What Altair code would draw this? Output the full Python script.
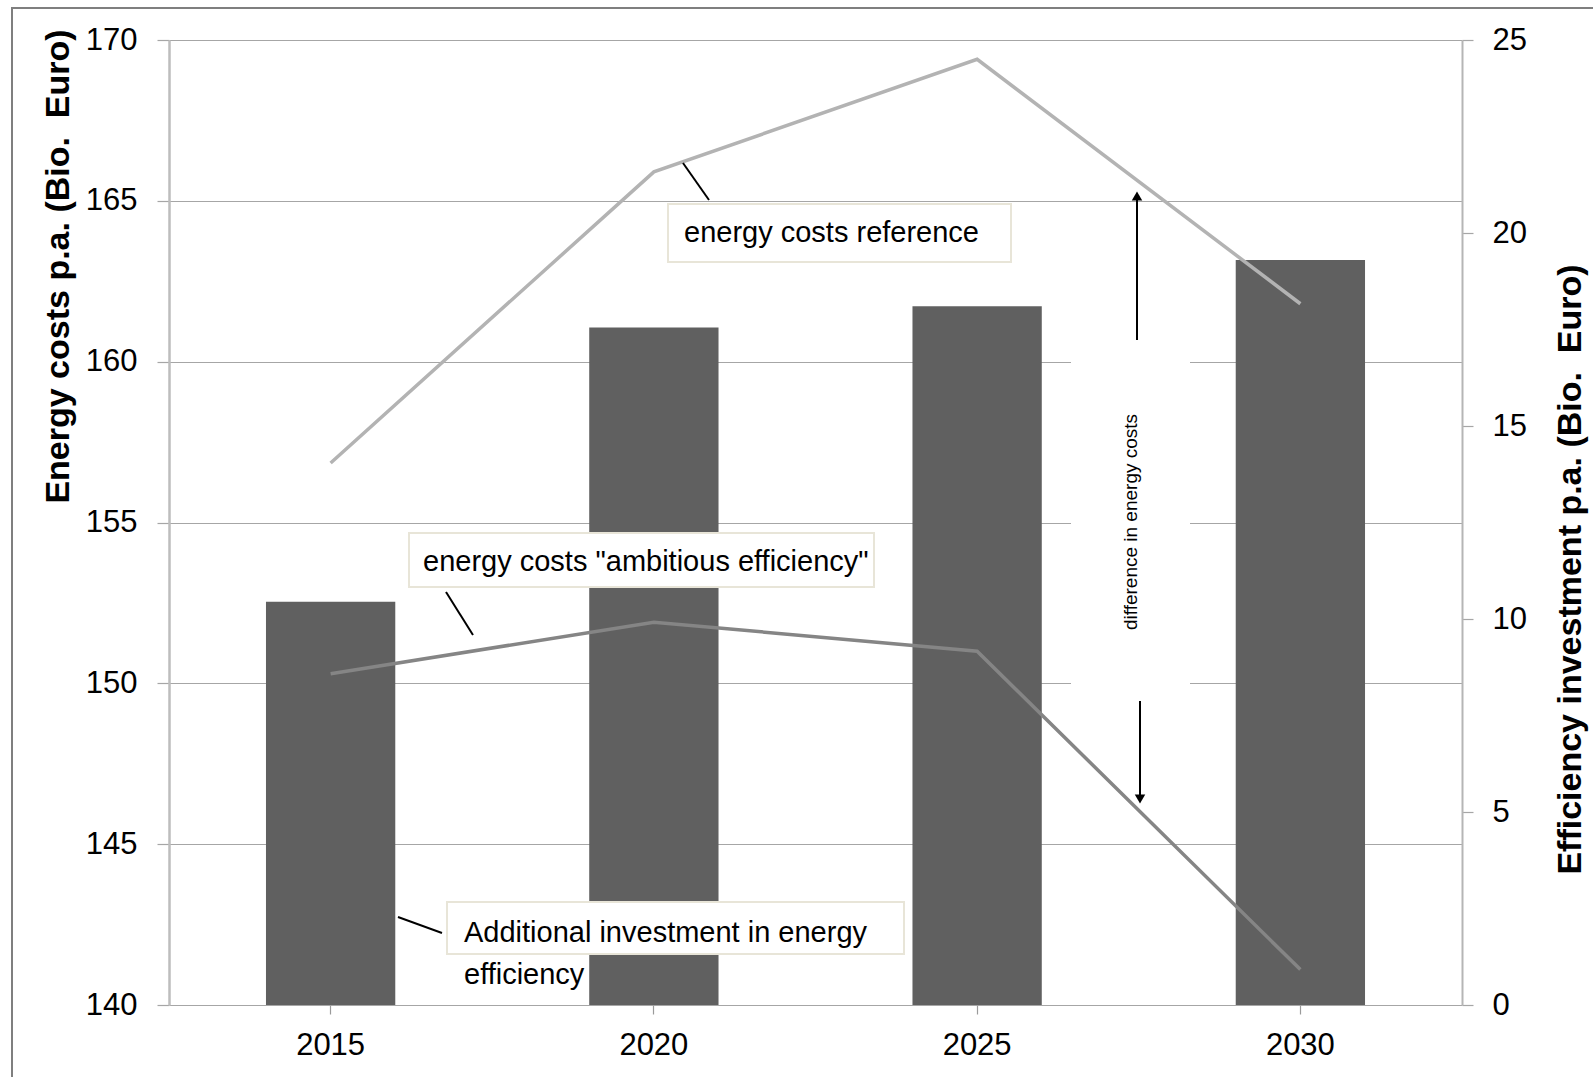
import altair as alt
import pandas as pd

# ---- data ----
years = ["2015", "2020", "2025", "2030"]
investment = [10.45, 17.55, 18.1, 19.3]          # right axis, Bio. Euro
cost_reference = [156.85, 165.9, 169.4, 161.8]   # left axis, Bio. Euro
cost_ambitious = [150.3, 151.9, 151.0, 141.1]    # left axis, Bio. Euro

left_ticks = [140, 145, 150, 155, 160, 165, 170]
right_ticks = [0, 5, 10, 15, 20, 25]

FONT = "Liberation Sans Narrow, Arial Narrow, Liberation Sans, Arial, sans-serif"

df = pd.DataFrame({"year": years, "investment": investment,
                   "ref": cost_reference, "amb": cost_ambitious})

xscale = alt.Scale(paddingInner=0.6, paddingOuter=0.3)
xaxis = alt.Axis(orient="bottom", domain=False, grid=False, ticks=True, tickSize=9,
                 tickColor="#9a9a9a", tickWidth=1.2, bandPosition=0.5,
                 labelFontSize=31, labelPadding=16, labelAngle=0, labelColor="black",
                 title=None)

base = alt.Chart(df)

bars = base.mark_bar(color="#606060").encode(
    x=alt.X("year:N", scale=xscale, axis=xaxis, sort=years),
    y=alt.Y("investment:Q", scale=alt.Scale(domain=[0, 25], nice=False, zero=True),
            axis=alt.Axis(orient="right", values=right_ticks, grid=False, domain=True,
                          domainColor="#b5b5b5", domainWidth=2, tickColor="#a6a6a6",
                          tickSize=11, tickWidth=1.2, labelFontSize=31, labelPadding=19,
                          labelColor="black",
                          title="Efficiency investment p.a. (Bio.\u00a0 Euro)",
                          titleFontSize=34, titleFontWeight="bold", titleColor="black",
                          titleAngle=270, titleX=108, titleY=529, titleAlign="center",
                          titleBaseline="middle")),
)

left_scale = alt.Scale(domain=[140, 170], nice=False, zero=False)
ref_line = base.mark_line(color="#b3b3b3", strokeWidth=3.5).encode(
    x=alt.X("year:N", sort=years),
    y=alt.Y("ref:Q", scale=left_scale,
            axis=alt.Axis(orient="left", values=left_ticks, grid=True, gridColor="#a6a6a6",
                          gridWidth=1.2, domain=True, domainColor="#bdbdbd", domainWidth=2.5,
                          tickColor="#a6a6a6", tickSize=12, tickWidth=1.2,
                          labelFontSize=31, labelPadding=20, labelColor="black",
                          title="Energy costs p.a. (Bio.\u00a0 Euro)",
                          titleFontSize=34, titleFontWeight="bold", titleColor="black",
                          titleAngle=270, titleX=-111, titleY=226, titleAlign="center",
                          titleBaseline="middle")),
)
amb_line = base.mark_line(color="#858585", strokeWidth=3.5).encode(
    x=alt.X("year:N", sort=years),
    y=alt.Y("amb:Q", scale=left_scale),
)
lines = alt.layer(ref_line, amb_line)

core = alt.layer(bars, lines).resolve_scale(y="independent")

one = alt.Chart(pd.DataFrame({"a": [0]}))

def box(x1, y1, x2, y2):
    return one.mark_rect(fill="white", stroke="#e8e5d8", strokeWidth=2).encode(
        x=alt.value(x1), x2=alt.value(x2), y=alt.value(y1), y2=alt.value(y2))

def seg(x1, y1, x2, y2, color="black", w=2):
    return one.mark_rule(color=color, strokeWidth=w).encode(
        x=alt.value(x1), x2=alt.value(x2), y=alt.value(y1), y2=alt.value(y2))

def label(txt, x, y, size=29, angle=0, align="left"):
    return one.mark_text(text=txt, font=FONT, fontSize=size, align=align,
                         baseline="middle", angle=angle, color="black",
                         lineHeight=42).encode(x=alt.value(x), y=alt.value(y))

# white area behind the vertical note (hides gridlines)
note_bg = one.mark_rect(fill="white").encode(
    x=alt.value(902), x2=alt.value(1021), y=alt.value(298), y2=alt.value(665))

annotations = [
    note_bg,
    # outer frame
    one.mark_rect(fill=None, stroke="#7f7f7f", strokeWidth=2).encode(
        x=alt.value(-157), x2=alt.value(1440), y=alt.value(-32), y2=alt.value(1060)),
    # energy costs reference
    seg(514, 123, 540, 160),
    box(499, 164, 842, 222),
    label("energy costs reference", 515, 193),
    # ambitious efficiency
    seg(277, 552, 304, 595),
    box(240, 493, 705, 547),
    label('energy costs "ambitious efficiency"', 254, 522),
    # additional investment
    seg(229, 877, 273, 893),
    box(278, 862, 735, 914),
    label(["Additional investment in energy", "efficiency"], 295, 893),
    # difference in energy costs
    label("difference in energy costs", 962, 482, size=19, angle=270, align="center"),
    seg(968, 300, 968, 158, w=2),
    one.mark_point(shape="triangle-up", filled=True, color="black", size=110, opacity=1).encode(
        x=alt.value(968), y=alt.value(156)),
    seg(971, 661, 971, 755, w=2),
    one.mark_point(shape="triangle-down", filled=True, color="black", size=110, opacity=1).encode(
        x=alt.value(971), y=alt.value(759)),
]

chart = alt.layer(core, *annotations).properties(
    width=1293, height=965,
    autosize=alt.AutoSizeParams(type="none"),
    padding={"left": 169, "top": 40, "right": 131, "bottom": 72},
    background="white",
).configure_view(stroke=None).configure_axis(
    labelFont=FONT, titleFont=FONT
)

chart.save("out.html", embed_options={"renderer": "svg", "actions": False})
